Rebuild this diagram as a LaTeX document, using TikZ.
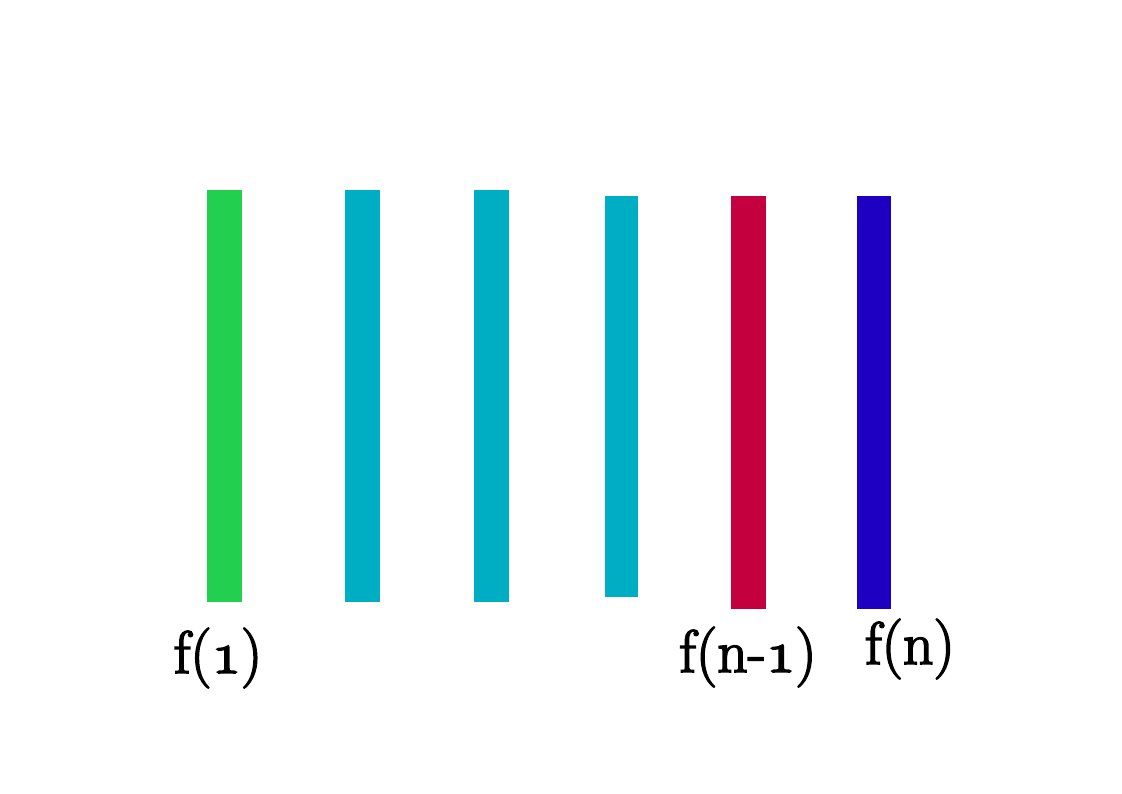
\documentclass[tikz,border=0pt]{standalone}
\definecolor{bargreen}{HTML}{22CF4E}
\definecolor{barteal}{HTML}{00AEC4}
\definecolor{barred}{HTML}{C4003F}
\definecolor{barblue}{HTML}{1D00C2}
\font\osfont=cmmi12 at 60pt
\newcommand{\heavytext}[1]{\special{pdf:code 2 Tr 1.6 w 0 G}#1\special{pdf:code 0 Tr 0.4 w}}
\newcommand{\osone}{{\osfont\char"31}}
\begin{document}
\begin{tikzpicture}[x=1pt,y=1pt,
  bar/.style={draw=none,inner sep=0pt,outer sep=0pt,anchor=north west,minimum width=35pt},
  lbl/.style={inner sep=0pt,anchor=base,font=\fontsize{60}{66}\selectfont}]
\useasboundingbox (0,0) rectangle (1122,793);
\node[bar,fill=bargreen,minimum height=412pt] (b1) at (207,603) {};
\node[bar,fill=barteal,minimum height=412pt] (b2) at (345,603) {};
\node[bar,fill=barteal,minimum height=412pt] (b3) at (474,603) {};
\node[bar,fill=barteal,minimum height=401pt,minimum width=33pt] (b4) at (605,597) {};
\node[bar,fill=barred,minimum height=413pt] (b5) at (731,597) {};
\node[bar,fill=barblue,minimum height=413pt,minimum width=34pt] (b6) at (857,597) {};
\node[lbl] (l1) at (218,120) {\heavytext{f(\osone)}};
\node[lbl] (l5) at (748,121) {\heavytext{f(n-\osone)}};
\node[lbl] (l6) at (910,129) {\heavytext{f(n)}};
\end{tikzpicture}
\end{document}
